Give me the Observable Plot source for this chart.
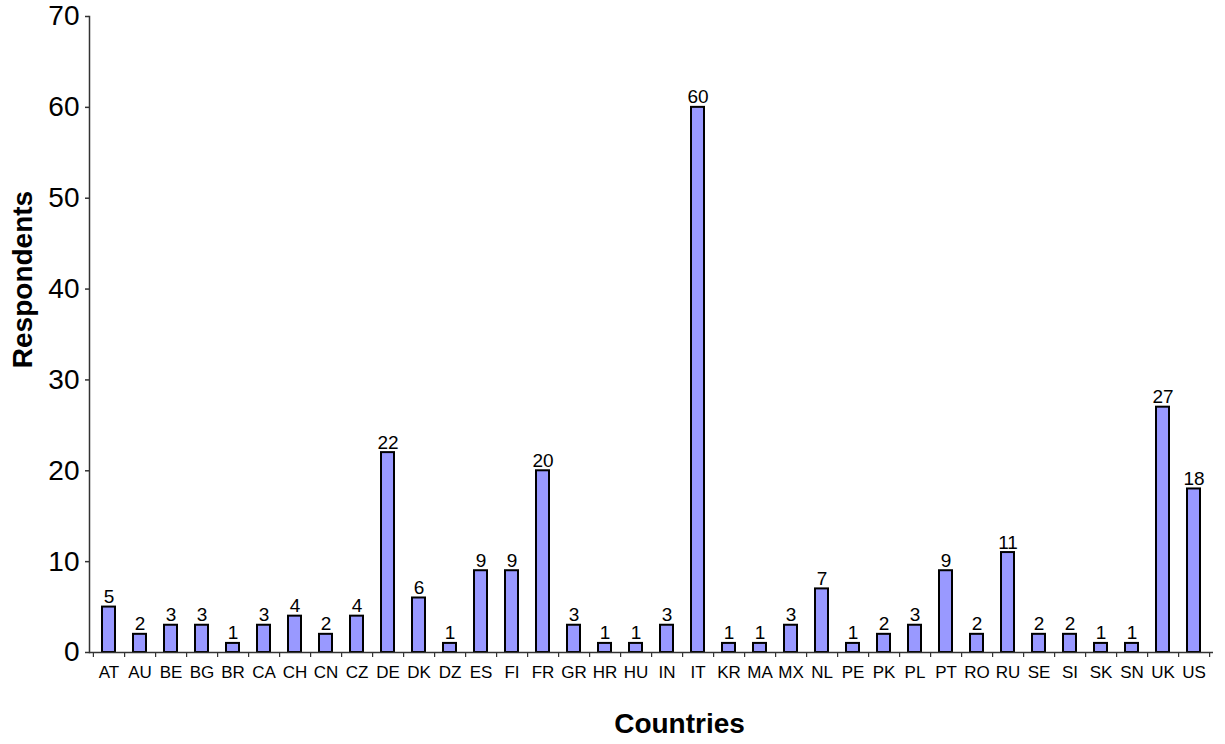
<!DOCTYPE html>
<html>
<head>
<meta charset="utf-8">
<script src="https://cdn.jsdelivr.net/npm/d3@7"></script>
<script src="https://cdn.jsdelivr.net/npm/@observablehq/plot@0.6"></script>
<style>
  html, body { margin: 0; padding: 0; background: #fff; }
  #chart svg { display: block; }
</style>
</head>
<body>
<div id="chart"></div>
<script>
const countries = ["AT","AU","BE","BG","BR","CA","CH","CN","CZ","DE","DK","DZ","ES","FI","FR","GR","HR","HU","IN","IT","KR","MA","MX","NL","PE","PK","PL","PT","RO","RU","SE","SI","SK","SN","UK","US"];
const respondents = [5,2,3,3,1,3,4,2,4,22,6,1,9,9,20,3,1,1,3,60,1,1,3,7,1,2,3,9,2,11,2,2,1,1,27,18];
const yTicks = [0,10,20,30,40,50,60,70];
const xTitle = "Countries";
const yTitle = "Respondents";

const data = countries.map((c, i) => ({country: c, value: respondents[i]}));

const W = 1225, H = 744;
const mL = 89, mR = 12, mT = 16, mB = 92;
const step = (W - mL - mR) / countries.length;
const font = "Arial, 'Liberation Sans', Helvetica, sans-serif";

const chart = Plot.plot({
  width: W,
  height: H,
  marginLeft: mL,
  marginRight: mR,
  marginTop: mT,
  marginBottom: mB,
  style: {fontFamily: font, color: "#000", background: "#fff"},
  x: {domain: countries, paddingInner: 0.58, paddingOuter: 0.29, align: 0.5, label: null},
  y: {domain: [0, 70], label: null},
  marks: [
    Plot.barY(data, {x: "country", y: "value", fill: "#9999FF", stroke: "#000", strokeWidth: 2}),
    Plot.text(data, {x: "country", y: "value", text: d => String(d.value), lineAnchor: "bottom", dy: -4, fontSize: 19, fill: "#000"}),
    // y axis
    Plot.axisY(yTicks, {tickSize: 4, tickPadding: 6, fontSize: 28, stroke: "#333", strokeWidth: 1.5, label: null}),
    Plot.frame({anchor: "left", stroke: "#333", strokeWidth: 1.5}),
    // x axis baseline
    Plot.ruleY([0], {stroke: "#333", strokeWidth: 1.5}),
    // tick marks at category boundaries
    Plot.axisX(countries, {tickSize: 5, dx: step / 2, tickFormat: null, stroke: "#333", strokeWidth: 1.2, label: null}),
    Plot.axisX(countries.slice(0, 1), {tickSize: 5, dx: -step / 2, tickFormat: null, stroke: "#333", strokeWidth: 1.2, label: null}),
    // category labels
    Plot.axisX(countries, {tickSize: 0, tickPadding: 13, fontSize: 17, label: null, fill: "#000"}),
    // axis titles
    Plot.text([yTitle], {frameAnchor: "left", textAnchor: "middle", rotate: -90, dx: -66, dy: -55, fontSize: 28, fontWeight: "bold", fill: "#000"}),
    Plot.text([xTitle], {frameAnchor: "bottom", dx: 28, dy: 80, fontSize: 28, fontWeight: "bold", fill: "#000"})
  ]
});
document.getElementById("chart").append(chart);
</script>
</body>
</html>
